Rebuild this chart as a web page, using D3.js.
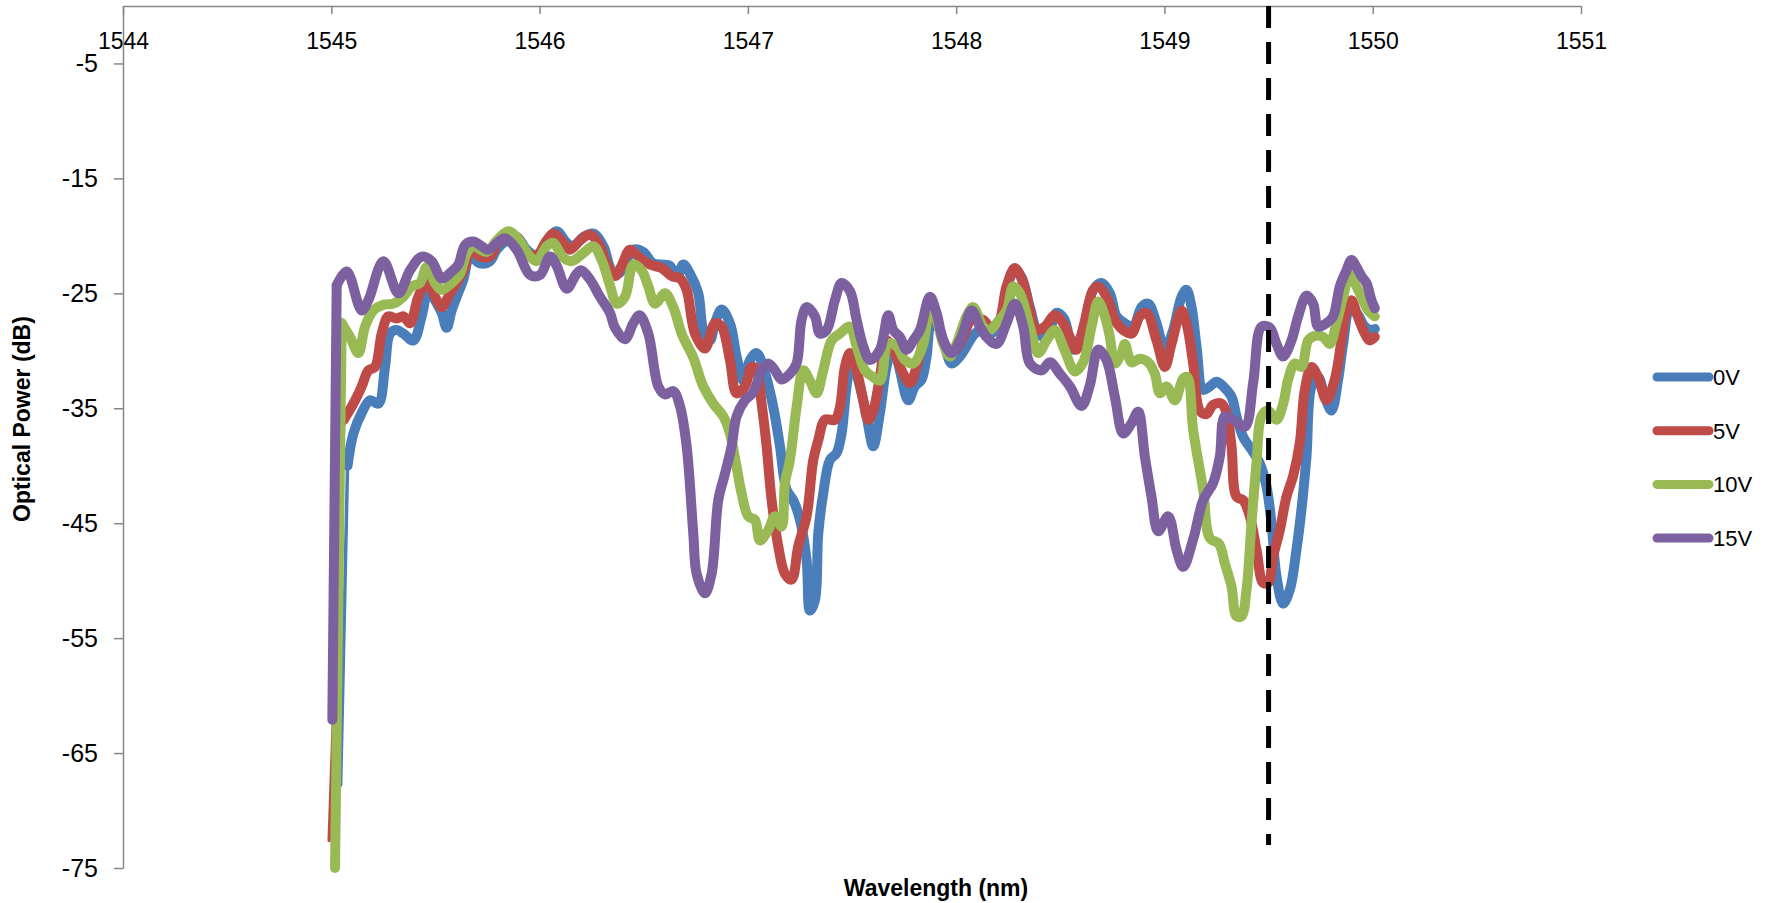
<!DOCTYPE html>
<html>
<head>
<meta charset="utf-8">
<script src="https://cdn.jsdelivr.net/npm/d3@7"></script>
<style>
  html, body { margin: 0; padding: 0; background: #ffffff; }
  svg { display: block; }
</style>
</head>
<body>
<svg id="chart" width="1777" height="903"></svg>
<script>
// ---------------- DATA ----------------
const seriesNames = ["0V", "5V", "10V", "15V"];
const xTicks = [1544, 1545, 1546, 1547, 1548, 1549, 1550, 1551];
const yTicks = [-5, -15, -25, -35, -45, -55, -65, -75];
const markerWavelength = 1549.5;
const markerRange = [0, -73];

const wl0V = [1545.045,1545.078,1545.106,1545.146,1545.186,1545.226,1545.258,1545.282,1545.314,1545.346,1545.394,1545.434,1545.466,1545.498,1545.530,1545.554,1545.578,1545.602,1545.634,1545.666,1545.714,1545.762,1545.794,1545.842,1545.890,1545.938,1545.986,1546.034,1546.082,1546.130,1546.162,1546.210,1546.258,1546.306,1546.346,1546.378,1546.418,1546.450,1546.498,1546.546,1546.594,1546.626,1546.658,1546.690,1546.722,1546.762,1546.786,1546.818,1546.842,1546.874,1546.914,1546.946,1546.978,1547.010,1547.042,1547.082,1547.122,1547.154,1547.186,1547.218,1547.250,1547.282,1547.298,1547.322,1547.338,1547.362,1547.394,1547.426,1547.450,1547.474,1547.498,1547.538,1547.570,1547.602,1547.634,1547.666,1547.698,1547.730,1547.770,1547.802,1547.834,1547.858,1547.882,1547.914,1547.946,1547.978,1548.018,1548.050,1548.090,1548.130,1548.162,1548.202,1548.250,1548.282,1548.314,1548.354,1548.394,1548.434,1548.482,1548.518,1548.562,1548.610,1548.658,1548.698,1548.738,1548.770,1548.810,1548.850,1548.890,1548.922,1548.962,1549.002,1549.042,1549.082,1549.106,1549.130,1549.154,1549.186,1549.218,1549.250,1549.282,1549.322,1549.346,1549.378,1549.418,1549.458,1549.490,1549.514,1549.538,1549.570,1549.602,1549.634,1549.658,1549.682,1549.706,1549.738,1549.770,1549.802,1549.834,1549.858,1549.890,1549.922,1549.962,1549.994,1550.010];
const pw0V = [-67.8,-40.0,-37.2,-35.4,-34.3,-34.6,-31.4,-28.5,-28.2,-28.5,-29.1,-27.0,-24.7,-25.6,-26.7,-28.0,-26.5,-25.3,-23.8,-21.8,-22.4,-22.2,-21.2,-20.4,-20.1,-21.2,-21.7,-20.6,-19.6,-20.6,-20.9,-20.1,-19.8,-20.9,-23.0,-23.3,-22.1,-21.2,-21.4,-22.4,-22.5,-22.6,-23.6,-22.5,-23.3,-25.0,-28.2,-29.1,-27.6,-26.4,-27.6,-30.5,-32.6,-30.8,-30.2,-31.9,-34.9,-38.3,-42.1,-43.0,-44.7,-48.2,-52.6,-51.7,-45.9,-42.4,-39.5,-38.9,-37.2,-33.1,-30.8,-33.1,-35.7,-38.3,-35.4,-31.4,-29.6,-31.7,-34.3,-33.1,-32.5,-30.5,-27.6,-27.9,-29.6,-31.1,-30.5,-29.6,-28.5,-28.2,-28.5,-27.9,-24.1,-23.0,-23.6,-26.2,-28.5,-28.8,-26.7,-27.2,-29.9,-28.2,-24.7,-24.1,-25.0,-27.0,-27.6,-27.9,-26.2,-25.9,-27.6,-29.9,-28.2,-25.3,-24.7,-26.2,-29.6,-33.4,-33.1,-32.7,-33.1,-34.0,-35.7,-37.5,-38.6,-39.8,-41.8,-45.0,-49.6,-52.0,-50.8,-47.3,-43.8,-39.2,-33.1,-32.3,-34.0,-35.2,-32.5,-29.4,-26.5,-26.7,-27.9,-28.2,-28.1];

const wl5V = [1544.990,1545.060,1545.106,1545.146,1545.178,1545.210,1545.242,1545.274,1545.314,1545.346,1545.378,1545.418,1545.458,1545.498,1545.530,1545.570,1545.602,1545.642,1545.666,1545.714,1545.762,1545.794,1545.842,1545.890,1545.938,1545.986,1546.034,1546.066,1546.114,1546.146,1546.194,1546.242,1546.290,1546.322,1546.362,1546.394,1546.434,1546.474,1546.530,1546.586,1546.634,1546.674,1546.706,1546.746,1546.794,1546.842,1546.874,1546.914,1546.946,1546.986,1547.018,1547.042,1547.066,1547.090,1547.114,1547.146,1547.178,1547.210,1547.242,1547.282,1547.314,1547.338,1547.370,1547.418,1547.442,1547.466,1547.490,1547.522,1547.554,1547.578,1547.602,1547.634,1547.666,1547.698,1547.738,1547.778,1547.810,1547.842,1547.874,1547.906,1547.938,1547.978,1548.026,1548.074,1548.130,1548.162,1548.202,1548.242,1548.282,1548.322,1548.354,1548.386,1548.426,1548.474,1548.514,1548.546,1548.578,1548.610,1548.658,1548.682,1548.730,1548.762,1548.802,1548.842,1548.882,1548.914,1548.962,1549.002,1549.034,1549.082,1549.106,1549.138,1549.170,1549.202,1549.234,1549.274,1549.298,1549.322,1549.346,1549.378,1549.410,1549.442,1549.474,1549.498,1549.522,1549.554,1549.586,1549.618,1549.650,1549.674,1549.706,1549.738,1549.778,1549.818,1549.850,1549.874,1549.898,1549.922,1549.954,1549.986,1550.010];
const pw5V = [-72.6,-36.0,-34.6,-33.1,-31.7,-31.4,-28.5,-27.0,-27.2,-27.0,-27.6,-25.3,-24.0,-25.3,-26.2,-25.0,-24.1,-22.7,-21.1,-21.8,-21.8,-20.8,-20.1,-20.1,-21.4,-21.7,-20.4,-19.8,-20.6,-21.2,-20.4,-19.9,-20.9,-22.4,-23.5,-22.6,-21.2,-21.8,-22.5,-22.8,-23.5,-23.7,-24.7,-28.5,-29.8,-27.6,-27.9,-30.8,-33.7,-33.1,-31.4,-31.7,-34.6,-38.3,-43.0,-47.0,-49.4,-49.9,-47.0,-44.4,-39.5,-37.8,-36.0,-36.0,-34.9,-31.4,-30.2,-31.7,-34.3,-36.0,-35.2,-32.3,-29.1,-29.9,-31.7,-32.8,-31.4,-29.1,-26.5,-27.3,-29.1,-30.2,-29.1,-27.3,-27.3,-27.9,-27.6,-24.4,-22.8,-24.1,-26.5,-28.2,-27.9,-26.9,-27.6,-28.8,-29.9,-28.0,-24.7,-24.4,-25.6,-27.3,-28.2,-28.5,-27.0,-26.7,-29.1,-31.4,-29.4,-26.5,-27.6,-31.1,-35.2,-35.5,-34.7,-34.6,-35.4,-38.3,-42.7,-43.0,-44.4,-47.3,-50.2,-50.2,-47.9,-45.6,-42.7,-40.9,-38.0,-33.4,-31.4,-32.3,-34.3,-32.5,-29.1,-26.5,-25.6,-26.7,-28.2,-29.1,-28.8];

const wl10V = [1545.018,1545.050,1545.090,1545.130,1545.162,1545.202,1545.250,1545.298,1545.346,1545.386,1545.426,1545.458,1545.498,1545.530,1545.578,1545.618,1545.650,1545.682,1545.746,1545.794,1545.850,1545.890,1545.954,1545.986,1546.034,1546.066,1546.114,1546.154,1546.210,1546.258,1546.298,1546.338,1546.370,1546.410,1546.450,1546.490,1546.522,1546.554,1546.602,1546.642,1546.682,1546.738,1546.786,1546.834,1546.882,1546.914,1546.940,1546.970,1547.002,1547.034,1547.058,1547.098,1547.130,1547.162,1547.178,1547.202,1547.234,1547.266,1547.298,1547.330,1547.362,1547.402,1547.442,1547.490,1547.522,1547.562,1547.602,1547.634,1547.674,1547.714,1547.754,1547.794,1547.842,1547.874,1547.906,1547.938,1547.970,1548.002,1548.050,1548.082,1548.130,1548.162,1548.194,1548.242,1548.274,1548.306,1548.354,1548.394,1548.434,1548.474,1548.522,1548.570,1548.610,1548.650,1548.682,1548.714,1548.738,1548.762,1548.794,1548.810,1548.842,1548.882,1548.922,1548.954,1548.978,1549.010,1549.050,1549.090,1549.110,1549.138,1549.186,1549.218,1549.262,1549.290,1549.322,1549.346,1549.370,1549.394,1549.418,1549.442,1549.466,1549.498,1549.538,1549.570,1549.594,1549.626,1549.658,1549.690,1549.722,1549.762,1549.794,1549.826,1549.858,1549.890,1549.914,1549.946,1549.978,1550.010];
const pw10V = [-75.0,-27.6,-28.8,-30.2,-27.9,-26.5,-26.0,-25.9,-25.3,-24.4,-24.1,-22.7,-24.1,-24.7,-24.1,-23.3,-21.5,-20.9,-21.4,-20.4,-19.6,-20.1,-21.8,-22.2,-20.9,-20.6,-21.9,-22.2,-21.5,-20.9,-22.1,-24.3,-25.9,-25.3,-22.5,-23.0,-24.4,-25.9,-25.0,-26.2,-28.5,-30.6,-33.1,-34.6,-35.7,-37.2,-39.5,-42.4,-44.4,-44.7,-46.5,-45.6,-44.4,-45.3,-41.5,-39.5,-34.9,-31.7,-32.6,-33.7,-31.7,-29.1,-28.5,-27.9,-29.6,-31.7,-32.3,-32.6,-29.4,-29.6,-30.8,-31.1,-29.4,-26.2,-27.3,-29.4,-30.5,-29.4,-27.0,-26.2,-27.9,-28.2,-27.6,-26.5,-24.4,-25.0,-27.9,-30.2,-29.1,-28.2,-30.0,-31.8,-31.0,-27.9,-25.7,-27.0,-28.8,-31.1,-30.2,-29.4,-31.0,-30.7,-31.0,-32.0,-33.7,-33.1,-34.3,-32.4,-32.3,-36.9,-42.1,-46.3,-46.8,-48.5,-50.5,-53.1,-53.1,-50.8,-45.0,-39.8,-35.7,-35.2,-36.0,-34.6,-32.5,-31.1,-31.4,-29.1,-28.7,-28.8,-29.4,-27.6,-25.3,-23.3,-24.1,-25.3,-26.5,-27.0];

const wl15V = [1545.005,1545.026,1545.074,1545.146,1545.178,1545.250,1545.322,1545.378,1545.434,1545.482,1545.530,1545.578,1545.610,1545.642,1545.682,1545.722,1545.754,1545.810,1545.834,1545.890,1545.954,1546.002,1546.050,1546.082,1546.130,1546.178,1546.200,1546.242,1546.290,1546.338,1546.362,1546.410,1546.450,1546.480,1546.522,1546.570,1546.602,1546.642,1546.674,1546.706,1546.738,1546.754,1546.794,1546.826,1546.858,1546.890,1546.922,1546.946,1546.986,1547.026,1547.066,1547.098,1547.130,1547.162,1547.202,1547.234,1547.258,1547.282,1547.322,1547.346,1547.378,1547.418,1547.450,1547.490,1547.522,1547.554,1547.586,1547.634,1547.674,1547.698,1547.730,1547.762,1547.794,1547.826,1547.874,1547.906,1547.938,1547.978,1548.026,1548.074,1548.114,1548.146,1548.194,1548.242,1548.282,1548.322,1548.354,1548.410,1548.450,1548.498,1548.546,1548.602,1548.642,1548.682,1548.722,1548.762,1548.802,1548.842,1548.874,1548.906,1548.938,1548.970,1549.018,1549.058,1549.090,1549.138,1549.186,1549.234,1549.266,1549.290,1549.330,1549.386,1549.426,1549.466,1549.506,1549.538,1549.570,1549.610,1549.642,1549.682,1549.714,1549.738,1549.778,1549.810,1549.842,1549.874,1549.898,1549.922,1549.946,1549.970,1549.994,1550.010];
const pw15V = [-62.1,-24.3,-23.1,-26.5,-25.6,-22.2,-25.0,-23.0,-21.8,-22.2,-23.7,-23.1,-22.5,-20.8,-20.5,-20.9,-21.2,-20.4,-20.2,-21.2,-23.4,-23.4,-21.8,-22.6,-24.6,-23.3,-23.0,-23.8,-25.3,-26.7,-28.0,-29.0,-27.6,-26.9,-28.5,-33.1,-33.8,-33.5,-34.8,-38.3,-45.9,-49.4,-51.1,-49.4,-43.0,-40.7,-38.3,-35.7,-34.3,-33.6,-31.7,-31.1,-31.7,-32.5,-32.0,-31.1,-27.3,-26.2,-27.0,-28.5,-28.2,-25.6,-24.1,-24.8,-27.3,-29.6,-30.8,-29.9,-26.9,-28.2,-28.8,-29.9,-29.1,-28.2,-25.3,-26.7,-29.1,-30.2,-28.8,-26.5,-27.9,-28.8,-29.4,-27.6,-25.9,-27.9,-31.1,-31.7,-31.0,-32.0,-33.1,-34.8,-33.0,-29.9,-30.8,-34.0,-37.2,-36.3,-35.3,-39.2,-42.7,-45.7,-44.4,-47.3,-48.8,-46.4,-43.0,-41.5,-39.2,-35.7,-36.0,-36.6,-32.8,-27.9,-28.0,-29.4,-30.5,-29.1,-27.0,-25.2,-25.9,-27.9,-27.6,-27.0,-24.4,-23.0,-22.1,-22.7,-23.5,-24.1,-25.6,-26.3];

// ---------------- STYLE ----------------
const colors = ["#4A7EBB", "#BE4B48", "#98B954", "#7D60A0"];
const leadWidths = [3.5, 3.5, 10, 10];   // width of the steep first segment
const lineWidth = 10;

const wavelengths = [wl0V, wl5V, wl10V, wl15V];
const powers = [pw0V, pw5V, pw10V, pw15V];
const series = seriesNames.map((name, i) => ({
  name,
  points: wavelengths[i].map((w, j) => ({ w, p: powers[i][j] }))
}));

// ---------------- CHART ----------------
const svg = d3.select("#chart");
svg.append("rect").attr("width", 1777).attr("height", 903).attr("fill", "#fff");

const x = d3.scaleLinear().domain([1544, 1551]).range([123, 1581]);
const y = d3.scaleLinear().domain([-75, 0]).range([868, 6]);

const axisColor = "#868686";
const labelFont = "'Liberation Sans', Arial, sans-serif";
const plainFormat = d => String(d);

// X axis at top (value 0), ticks pointing down into the plot
const xAxisG = svg.append("g")
  .attr("transform", `translate(0,${y(0)})`)
  .call(d3.axisBottom(x).tickValues(xTicks).tickFormat(plainFormat)
        .tickSize(8).tickSizeOuter(0).tickPadding(19));
xAxisG.select(".domain").attr("stroke", axisColor).attr("stroke-width", 1.5);
xAxisG.selectAll(".tick line").attr("stroke", axisColor).attr("stroke-width", 1.5);
xAxisG.selectAll(".tick text").attr("font-family", labelFont).attr("font-size", 23).attr("fill", "#000");

// Y axis
const yAxisG = svg.append("g")
  .attr("transform", `translate(${x(1544)},0)`)
  .call(d3.axisLeft(y).tickValues(yTicks).tickFormat(plainFormat)
        .tickSize(9).tickSizeOuter(0).tickPadding(16));
yAxisG.select(".domain").attr("stroke", axisColor).attr("stroke-width", 1.5);
yAxisG.selectAll(".tick line").attr("stroke", axisColor).attr("stroke-width", 1.5);
yAxisG.selectAll(".tick text").attr("font-family", labelFont).attr("font-size", 25).attr("fill", "#000");

// Series
const line = d3.line().x(d => x(d.w)).y(d => y(d.p)).curve(d3.curveCatmullRom.alpha(0.5));
const gLines = svg.append("g");
series.forEach((s, i) => {
  const pts = s.points;
  gLines.append("line")
    .attr("x1", x(pts[0].w)).attr("y1", y(pts[0].p))
    .attr("x2", x(pts[1].w)).attr("y2", y(pts[1].p))
    .attr("stroke", colors[i]).attr("stroke-width", leadWidths[i])
    .attr("stroke-linecap", "round");
  gLines.append("path")
    .datum(pts.slice(1))
    .attr("d", line)
    .attr("fill", "none")
    .attr("stroke", colors[i])
    .attr("stroke-width", lineWidth)
    .attr("stroke-linecap", "round")
    .attr("stroke-linejoin", "round");
});

// Dashed marker line
svg.append("line")
  .attr("x1", x(markerWavelength)).attr("x2", x(markerWavelength))
  .attr("y1", y(markerRange[0])).attr("y2", y(markerRange[1]))
  .attr("stroke", "#000").attr("stroke-width", 5)
  .attr("stroke-dasharray", "22 14");

// Axis titles
svg.append("text")
  .attr("x", 936).attr("y", 896)
  .attr("text-anchor", "middle")
  .attr("font-family", labelFont).attr("font-weight", "bold").attr("font-size", 23)
  .text("Wavelength (nm)");
svg.append("text")
  .attr("transform", "translate(30,419) rotate(-90)")
  .attr("text-anchor", "middle")
  .attr("font-family", labelFont).attr("font-weight", "bold").attr("font-size", 23)
  .text("Optical Power (dB)");

// Legend
const legend = svg.append("g");
seriesNames.forEach((name, i) => {
  const ly = 377 + i * 53.7;
  legend.append("line")
    .attr("x1", 1657).attr("x2", 1709).attr("y1", ly).attr("y2", ly)
    .attr("stroke", colors[i]).attr("stroke-width", 9).attr("stroke-linecap", "round");
  legend.append("text")
    .attr("x", 1713).attr("y", ly).attr("dy", "0.36em")
    .attr("font-family", labelFont).attr("font-size", 22).attr("fill", "#000")
    .text(name);
});
</script>
</body>
</html>
